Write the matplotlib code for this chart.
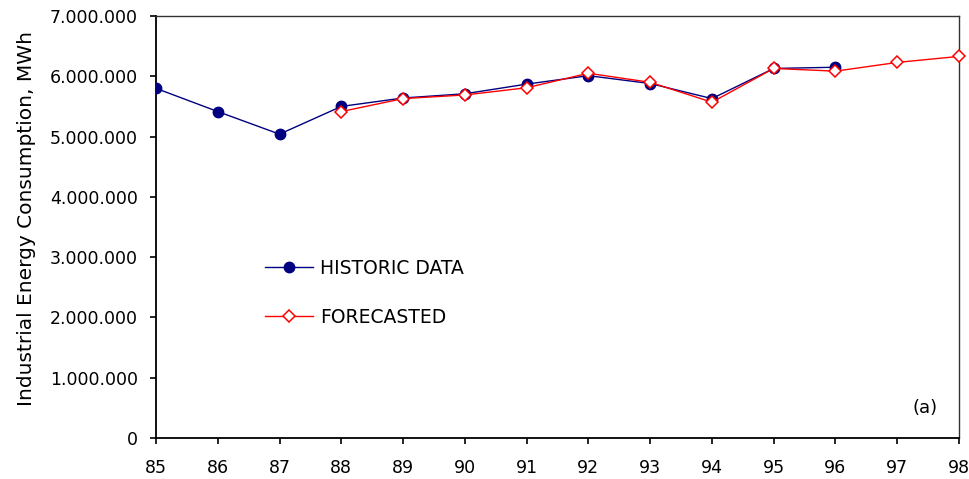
import matplotlib.pyplot as plt
from matplotlib.ticker import FuncFormatter

plt.rcParams['font.family'] = ['DejaVu Sans']

# annual industrial consumption, MWh
years_hist = [85, 86, 87, 88, 89, 90, 91, 92, 93, 94, 95, 96]
historic = [5800000, 5415000, 5040000, 5500000, 5640000, 5710000, 5870000,
            6010000, 5880000, 5630000, 6130000, 6150000]

years_fc = [88, 89, 90, 91, 92, 93, 94, 95, 96, 97, 98]
forecast = [5415000, 5630000, 5690000, 5810000, 6050000, 5900000, 5570000,
            6130000, 6085000, 6230000, 6330000]

xticks = list(range(85, 99))
yticks = list(range(0, 7000001, 1000000))

fig = plt.figure(figsize=(9.7, 4.79), dpi=100)
ax = fig.add_axes([0.1608, 0.0856, 0.8279, 0.881])

ax.plot(years_hist, historic, color='#000080', lw=1.0, marker='o',
        markersize=7.5, markerfacecolor='#000080', markeredgecolor='#000080',
        label='HISTORIC DATA', zorder=3)
ax.plot(years_fc, forecast, color='#FF0000', lw=1.0, marker='D',
        markersize=6.6, markerfacecolor='white', markeredgecolor='#FF0000',
        markeredgewidth=1.1, label='FORECASTED', zorder=4, clip_on=False)

ax.set_xlim(85, 98)
ax.set_ylim(0, 7000000)
ax.set_xticks(xticks)
ax.set_yticks(yticks)
ax.yaxis.set_major_formatter(FuncFormatter(lambda v, p: f'{int(v):,}'.replace(',', '.')))

ax.tick_params(direction='out', length=4, width=1.2, labelsize=12.5, colors='black')
ax.tick_params(axis='x', pad=11)
ax.tick_params(axis='y', pad=9)
for side in ['left', 'bottom']:
    ax.spines[side].set_linewidth(1.3)
for side in ['top', 'right']:
    ax.spines[side].set_linewidth(1.0)
    ax.spines[side].set_color('#333333')

ax.set_ylabel('Industrial Energy Consumption, MWh', fontsize=14.5)
ax.yaxis.set_label_coords(-0.150, 0.519)

ax.legend(loc='upper left', bbox_to_anchor=(0.115, 0.465), frameon=False,
          fontsize=13.5, handlelength=2.56, labelspacing=1.6, handletextpad=0.37)

ax.text(0.958, 0.07, '(a)', transform=ax.transAxes, ha='center', va='center', fontsize=13)

fig.savefig('out.png', dpi=100)
